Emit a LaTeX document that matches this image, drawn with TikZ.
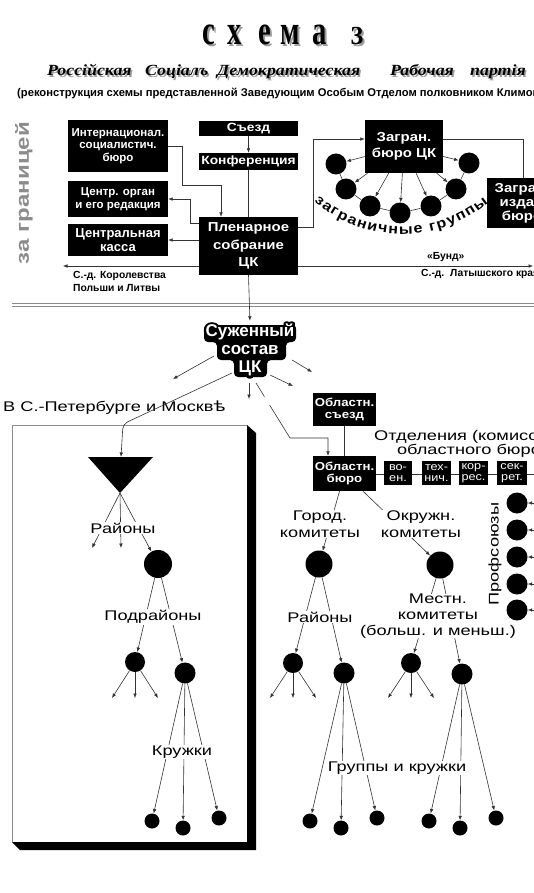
\documentclass[tikz,border=0pt]{standalone}
\usepackage{fontspec}
\usepackage{graphicx}
\setmainfont{Liberation Sans}
\newfontfamily\sansx[FakeStretch=1.15]{Liberation Sans}
\newfontfamily\sansw[FakeStretch=1.3]{Liberation Sans}
\newfontfamily\titlefont{Liberation Serif}
\newfontfamily\subfont[FakeStretch=1.15]{Liberation Serif}
\newfontfamily\yatfont[FakeStretch=1.3]{DejaVu Sans}
\newfontfamily\halofont[FakeBold=30]{Liberation Sans Bold}
\usetikzlibrary{arrows.meta,calc,decorations.text}
\newcommand\setfs[2]{\fontsize{#1}{#2}\selectfont}
\newcommand\shad[2]{\rlap{\smash{\kern#1\raisebox{-#1}{\textcolor{black!38}{#2}}}}#2}

\tikzset{
  conn/.style={draw=black!80, line width=0.6pt},
  arr/.style={conn, -{Latex[length=4.5pt,width=3.6pt]}},
  bbox/.style={fill=black, text=white, align=center, inner sep=0pt},
  blob/.style={circle, fill=black, inner sep=0pt, minimum size=#1},
  lbl/.style={font=\sansw\setfs{14}{16.5}, align=center, inner sep=1pt},
  lblw/.style={lbl, fill=white},
  smalltxt/.style={font=\bfseries\setfs{10.3}{13}, align=left, inner sep=0pt, anchor=west},
  ttl/.style={font=\titlefont\bfseries\setfs{26}{26}, anchor=base, inner sep=0pt},
  subw/.style={font=\subfont\bfseries\itshape\setfs{15.5}{16}, anchor=base west, inner sep=0pt},
  szhs/.style={font=\bfseries\setfs{17}{18}, align=center, inner sep=0pt},
}

\begin{document}
\begin{tikzpicture}[x=1pt,y=-1pt]
\useasboundingbox (0,0) rectangle (534,893);
\fill[white] (0,0) rectangle (534,893);
\clip (0,0) rectangle (534,893);

% ---------- title ----------
\foreach \ch/\xx [count=\i] in {с/209,х/235,е/265,м/290,а/320}{
  \node[ttl] (t\i) at (\xx,45) {\shad{2pt}{\scalebox{1.1}[1.6]{\ch}}};
}
\node[ttl] (t6) at (357,45) {\shad{2pt}{3}};

\foreach \w/\xx [count=\i] in {Россійская/47,Соціалъ/145,Демократическая/217,Рабочая/390,партія/470}{
  \node[subw] (w\i) at (\xx,76) {\shad{1.6pt}{\w}};
}
\node[font=\bfseries\setfs{11.2}{12}, anchor=base west, inner sep=0pt] (recon) at (17,97)
  {(реконструкция схемы представленной Заведующим Особым Отделом полковником Климовичем)};

% ---------- upper section ----------
\node[font=\sansw\bfseries\setfs{18.5}{20}, text=black!45, rotate=90] (zag) at (24,193) {за границей};

\node[bbox, minimum width=100pt, minimum height=52pt, font=\bfseries\setfs{11.5}{12.5}] (intl) at (118,146) {Интернационал.\\социалистич.\\бюро};
\node[bbox, minimum width=100pt, minimum height=36pt, font=\bfseries\setfs{11.5}{12.5}] (corg) at (118,199) {Центр. орган\\и его редакция};
\node[bbox, minimum width=100pt, minimum height=32pt, font=\bfseries\setfs{13}{14}] (kassa) at (118,240) {Центральная\\касса};
\node[bbox, minimum width=99pt, minimum height=15pt, font=\sansx\bfseries\setfs{12}{13}] (sezd) at (248.5,128.5) {Съезд};
\node[bbox, minimum width=99pt, minimum height=17pt, font=\sansx\bfseries\setfs{12}{13}] (konf) at (248.5,161.5) {Конференция};
\node[bbox, minimum width=99pt, minimum height=58pt, font=\sansx\bfseries\setfs{13}{17.5}] (plen) at (248.5,246) {Пленарное\\собрание\\ЦК};
\node[bbox, minimum width=78pt, minimum height=53pt, font=\sansx\bfseries\setfs{13}{15.5}] (zb) at (404,146.5) {Загран.\\бюро ЦК};
\node[bbox, minimum width=70pt, minimum height=50pt, font=\sansx\bfseries\setfs{13}{14}] (zib) at (522,203) {Загран.\\издат.\\бюро};

\draw[arr] (sezd) -- (konf);
\draw[conn] (konf) -- (plen);
\draw[arr] (intl.east) -- (182,146) -- (182,185) -- (221,185) -- (plen.north -| 221,185);
\draw[arr] (plen.west |- 0,223) -- (190,223) -- (190,199) -- (corg.east);
\draw[arr] (plen.west |- kassa.east) -- (kassa.east);
\coordinate (polend) at (63,266);
\coordinate (latend) at (533,266);
\draw[arr] (plen.west |- 0,266) -- (polend);
\draw[arr] (plen.east |- 0,266) -- (latend);
\draw[arr] (plen.east |- 0,227) -- (313,227) -- (313,139) -- (zb.west |- 0,139);
\draw[conn] (zb.east |- 0,139) -- (523,139) -- (zib.north -| 523,0);

\foreach \n/\xx/\yy in {1/336/164, 2/346/189, 3/370/206, 4/400/213, 5/431/206, 6/456/189, 7/469/163}
  \node[blob=21pt] (c\n) at (\xx,\yy) {};
\draw[conn] (c1) -- (c2) -- (c3) -- (c4) -- (c5) -- (c6) -- (c7);
\foreach \n in {1,...,7} \draw[arr] (zb) -- (c\n);
\path[decorate, decoration={text along path, text align={fit to path},
  text={|\sansx\bfseries\setfs{14}{14}|заграничные группы}}]
  (402,100) ++(131:134) arc[start angle=131, end angle=50, radius=134];

\node[smalltxt] (pol) at (73,281) {С.-д. Королевства\\Польши и Литвы};
\node[smalltxt] (bund) at (427,257) {«Бунд»};
\node[smalltxt] (lat) at (421,273.5) {С.-д.\ \ Латышского края};

% separator
\draw[black!45, line width=0.6pt] (12,303) -- (534,303);
\draw[black!45, line width=0.6pt] (12,306.5) -- (534,306.5);

% ---------- narrowed CC ----------
\fill[rounded corners=4pt] (204,325) -- (296,325) -- (296,342) -- (286,342) -- (286,360) -- (267,360) -- (267,377) -- (234,377) -- (234,360) -- (217,360) -- (217,342) -- (204,342) -- cycle;
\begin{scope}[line join=round, miter limit=1]
\node[szhs, text=black, font=\halofont\setfs{17}{18}] (szhhalo) at (250,350) {Суженный\\состав\\ЦК};
\end{scope}
\node[szhs, text=white] (szh) at (250,350) {Суженный\\состав\\ЦК};
\draw[arr, shorten >=3pt] (plen.south) -- (szh.north);

\coordinate (sA) at (214,356); \coordinate (eA) at (173,379);
\coordinate (sB) at (232,373);
\coordinate (sC) at (249,383); \coordinate (eC) at (249,399);
\coordinate (sD) at (292,360); \coordinate (eD) at (312,372);
\coordinate (sE) at (270,375); \coordinate (eE) at (293,386);
\coordinate (sF) at (256,383);
\draw[arr] (sA) -- (eA);
\draw[arr] (sC) -- (eC);
\draw[arr] (sD) -- (eD);
\draw[arr] (sE) -- (eE);

% ---------- St Petersburg / Moscow box ----------
\draw[black!45, line width=0.6pt] (247,425) -- (12,425) -- (12,842);
\fill (247,425) -- (256,433) -- (256,850) -- (20,850) -- (12,842) -- (247,842) -- cycle;

\node[lbl, anchor=west, inner sep=0pt] (spb) at (3,408) {В С.-Петербурге и Москв{\yatfont ѣ}};
\coordinate (triTop) at (121,457);
\coordinate (triApex) at (120,493);
\fill (88,457) -- (153,457) -- (triApex) -- cycle;
\draw[arr, rounded corners=5pt] (sB) -- (123,424) -- (triTop);

\node[blob=28pt] (rc) at (158,564) {};
\coordinate (rl1) at (92,548); \coordinate (rl2) at (121,548);
\draw[arr] (triApex) -- (rl1);
\draw[arr] (triApex) -- (rl2);
\draw[arr] (triApex) -- (rc);
\node[lblw] (ray1) at (123,528) {Районы};

\node[blob=20pt] (A) at (135,662) {};
\node[blob=21pt] (B) at (185,673) {};
\draw[arr] (rc) -- (A);
\draw[arr] (rc) -- (B);
\node[lblw] (podr) at (153,617) {Подрайоны};

% ---------- regional ----------
\node[bbox, minimum width=63pt, minimum height=33pt, font=\sansx\bfseries\setfs{11.5}{12.5}] (osezd) at (344.5,409.5) {Областн.\\съезд};
\node[bbox, minimum width=63pt, minimum height=35pt, font=\sansx\bfseries\setfs{11.5}{12.5}] (obyuro) at (344.5,473.5) {Областн.\\бюро};
\draw[conn] (osezd) -- (obyuro);
\draw[arr, dash pattern=on 16pt off 10pt on 400pt] (sF) -- (290,438) -- (328,438) -- (obyuro.north -| 328,0);

\node[lbl, font=\sansw\setfs{14}{14}] (otd) at (469,444) {Отделения (комиссии)\\областного бюро};
\coordinate (otdend) at (534,474);
\draw[conn] (obyuro.east |- 0,474) -- (otdend);
\foreach \nm/\xx/\ww/\tx in {voen/398/28/{во-\\ен.}, tech/436.5/29/{тех-\\нич.}, kor/473.5/29/{кор-\\рес.}, sek/512/30/{сек-\\рет.}}
  \node[bbox, minimum width=\ww pt, minimum height=24pt, font=\sansx\setfs{11}{11.5}] (\nm) at (\xx,473) {\tx};

\node[blob=27pt] (gc) at (319,564) {};
\node[blob=27pt] (oc) at (440,565) {};
\draw[arr] (obyuro) -- (gc);
\draw[arr] (obyuro) -- (oc);
\node[lblw] (gorod) at (320,524) {Город.\\комитеты};
\node[lblw] (okr) at (421,524) {Окружн.\\комитеты};

\node[blob=20pt] (C) at (293,663) {};
\node[blob=21pt] (D) at (344,673) {};
\node[blob=20pt] (E) at (411,663) {};
\node[blob=21pt] (F) at (462,674) {};
\draw[arr] (gc) -- (C);
\draw[arr] (gc) -- (D);
\draw[arr] (oc) -- (E);
\draw[arr] (oc) -- (F);
\node[lblw] (ray2) at (320,617) {Районы};
\node[lblw, inner sep=0pt, font=\sansw\setfs{14}{16}] (mestn) at (438,616) {Местн.\\комитеты\\(больш. и меньш.)};

% trade unions (drawn after the label so nothing covers them)
\node[lbl, rotate=90] (prof) at (495,554) {Профсоюзы};
\foreach \n/\yy in {1/503, 2/530, 3/557, 4/584, 5/610}{
  \node[blob=21pt] (p\n) at (517,\yy) {};
  \coordinate (pe\n) at (537,\yy);
  \draw[arr] (pe\n) -- (p\n);
}

% three-way fans
\foreach \cc/\xx in {A/135, C/293, E/411}{
  \foreach \d [count=\k] in {-23,0,23}{
    \coordinate (\cc f\k) at (\xx+\d,698);
    \draw[arr] (\cc) -- (\cc f\k);
  }
}

% bottom circles
\foreach \cc/\xx in {B/183, D/341, F/460}{
  \node[blob=15pt] (\cc 1) at (\xx-31,821) {};
  \node[blob=15pt] (\cc 2) at (\xx,828) {};
  \node[blob=15pt] (\cc 3) at (\xx+36,818) {};
}
\foreach \cc in {B,D,F}{
  \draw[arr] (\cc) -- (\cc 1);
  \draw[arr] (\cc) -- (\cc 2);
  \draw[arr] (\cc) -- (\cc 3);
}
\node[lblw] (kruzh) at (182,752) {Кружки};
\node[lblw] (grup) at (397,768) {Группы и кружки};

\end{tikzpicture}
\end{document}
